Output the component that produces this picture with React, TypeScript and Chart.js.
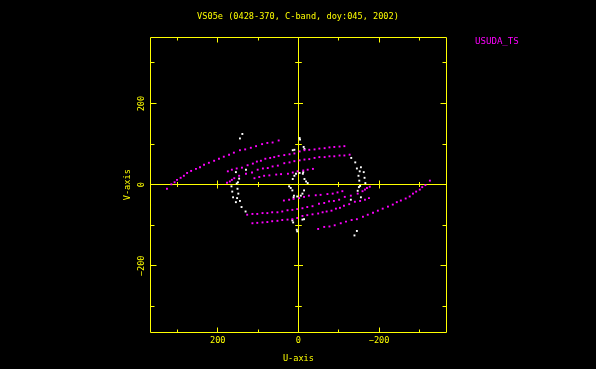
import React, { useEffect, useRef } from 'react';
import { Chart, registerables } from 'chart.js';

Chart.register(...registerables);

const TITLE = 'VS05e (0428-370, C-band, doy:045, 2002)';
const LEGEND_LABEL = 'USUDA_TS';
const X_LABEL = 'U-axis';
const Y_LABEL = 'V-axis';

const MAJOR_TICKS = [-200, 0, 200];
const MINOR_TICKS = [-300, -100, 100, 300];
const TICK_LABELS = ['\u2212200', '0', '200'];

const X_MIN = -366;
const X_MAX = 368;
const Y_MIN = -363;
const Y_MAX = 364;

// USUDA_TS tracks (one half of the uv plane; the conjugate half is -u,-v)
const trackAU = [326, 315, 307, 301, 292, 284, 276, 266, 254, 244, 234, 222, 209, 197, 185, 172, 160, 145, 132, 118, 105, 90, 77, 64, 49];
const trackAV = [-10, 1, 6, 12, 17, 22, 29, 34, 39, 43, 49, 54, 59, 64, 69, 74, 79, 85, 87, 91, 95, 100, 103, 104, 109];

const trackBU = [175, 165, 153, 140, 126, 113, 103, 93, 82, 70, 60, 49, 35, 22, 10, -3, -15, -27, -40, -52, -65, -77, -89, -102, -114];
const trackBV = [33, 37, 40, 42, 48, 52, 57, 59, 64, 66, 68, 71, 73, 75, 77, 82, 85, 86, 87, 89, 90, 92, 93, 94, 95];

const trackCU = [177, 170, 165, 159, 147, 130, 115, 101, 88, 76, 64, 51, 35, 22, 10, -3, -15, -27, -40, -52, -65, -77, -89, -102, -114, -127];
const trackCV = [5, 8, 12, 16, 22, 27, 30, 37, 40, 41, 45, 47, 53, 55, 58, 60, 62, 63, 66, 68, 68, 70, 70, 72, 72, 74];

const trackDU = [109, 97, 85, 72, 55, 43, 26, 14, 2, -12, -23, -36];
const trackDV = [16, 19, 22, 23, 25, 26, 27, 30, 33, 35, 37, 39];

// white points (one half; conjugates drawn too)
const whiteU = [139, 145, 130, 155, 147, 150, 153, 166, 151, 164, 149, 162, 152, 145, 155, 141, 131, -3, -4, 10, 14, -13, -15, 14, 10, 6, -3, -11, -12, -15, -19, -23];
const whiteV = [125, 114, 37, 31, 15, 6, 3, -4, -10, -17, -22, -31, -33, -40, -43, -55, -66, 115, 111, 86, 85, 93, 88, 14, 22, 27, 29, 27, 31, 14, 8, 4];

const YELLOW = '#ffff00';
const MAGENTA = '#ff00ff';
const WHITE = '#ffffff';
const FONT = '"DejaVu Sans Mono", "Liberation Mono", monospace';

function pts(us: number[], vs: number[], sign: number) {
  return us.map((u, i) => ({ x: sign * u, y: sign * vs[i] }));
}

function ds(data: { x: number; y: number }[], color: string) {
  return {
    data,
    showLine: false,
    pointStyle: 'rect' as const,
    pointRadius: 1.35,
    pointBorderWidth: 0,
    pointBackgroundColor: color,
    backgroundColor: color,
    borderColor: color,
  };
}

const snap = (v: number) => Math.round(v - 0.5) + 0.5;

const uvFrame = {
  id: 'uvFrame',
  beforeDraw(chart: any) {
    const ctx = chart.ctx;
    ctx.save();
    ctx.fillStyle = '#000000';
    ctx.fillRect(0, 0, chart.width, chart.height);
    ctx.restore();
  },
  beforeDatasetsDraw(chart: any) {
    const ctx = chart.ctx;
    const { left, right, top, bottom } = chart.chartArea;
    const xs = chart.scales.x;
    const ys = chart.scales.y;
    const L = snap(left), R = snap(right), T = snap(top), B = snap(bottom);
    const x0 = snap(xs.getPixelForValue(0));
    const y0 = snap(ys.getPixelForValue(0));
    ctx.save();
    ctx.strokeStyle = YELLOW;
    ctx.lineWidth = 1;
    ctx.beginPath();
    ctx.rect(L, T, R - L, B - T);
    ctx.moveTo(L, y0); ctx.lineTo(R, y0);
    ctx.moveTo(x0, T); ctx.lineTo(x0, B);
    const all = [...MAJOR_TICKS.map((t) => [t, 1]), ...MINOR_TICKS.map((t) => [t, 0])];
    for (const [t, major] of all) {
      if (t === 0) continue;
      const px = snap(xs.getPixelForValue(t));
      const lx = major ? 5 : 3;
      ctx.moveTo(px, B); ctx.lineTo(px, B - lx);
      ctx.moveTo(px, T); ctx.lineTo(px, T + lx);
      const cx = major ? 4 : 2.5;
      ctx.moveTo(px, y0 - cx); ctx.lineTo(px, y0 + cx);
      const py = snap(ys.getPixelForValue(t));
      const ly = major ? 6 : 4;
      ctx.moveTo(L, py); ctx.lineTo(L + ly, py);
      ctx.moveTo(R, py); ctx.lineTo(R - ly, py);
      const cy = major ? 4.5 : 3.3;
      ctx.moveTo(x0 - cy, py); ctx.lineTo(x0 + cy, py);
    }
    ctx.stroke();
    ctx.restore();
  },
  afterDraw(chart: any) {
    const ctx = chart.ctx;
    const xs = chart.scales.x;
    const ys = chart.scales.y;
    const { left, right, bottom } = chart.chartArea;
    ctx.save();
    ctx.fillStyle = YELLOW;
    ctx.font = `8.6px ${FONT}`;
    ctx.textAlign = 'center';
    ctx.textBaseline = 'middle';
    ctx.fillText(TITLE, (left + right) / 2, 16.5);
    MAJOR_TICKS.forEach((t, i) => {
      ctx.fillText(TICK_LABELS[i], xs.getPixelForValue(t), bottom + 8.5);
    });
    ctx.fillText(X_LABEL, xs.getPixelForValue(0), bottom + 27);
    MAJOR_TICKS.forEach((t, i) => {
      ctx.save();
      ctx.translate(left - 8.3, ys.getPixelForValue(t));
      ctx.rotate(-Math.PI / 2);
      ctx.fillText(TICK_LABELS[i], 0, 0);
      ctx.restore();
    });
    ctx.save();
    ctx.translate(left - 22.3, ys.getPixelForValue(0));
    ctx.rotate(-Math.PI / 2);
    ctx.fillText(Y_LABEL, 0, 0);
    ctx.restore();
    ctx.fillStyle = MAGENTA;
    ctx.font = `9.1px ${FONT}`;
    ctx.textAlign = 'left';
    ctx.fillText(LEGEND_LABEL, 475, 41.7);
    ctx.restore();
  },
};

export default function App() {
  const ref = useRef<HTMLCanvasElement | null>(null);
  useEffect(() => {
    document.body.style.margin = '0';
    document.body.style.background = '#000';
    const canvas = ref.current;
    if (!canvas) return;
    const magentaTracks = [
      [trackAU, trackAV],
      [trackBU, trackBV],
      [trackCU, trackCV],
      [trackDU, trackDV],
    ];
    const datasets: any[] = [];
    magentaTracks.forEach(([u, v]) => {
      datasets.push(ds(pts(u, v, 1), MAGENTA));
      datasets.push(ds(pts(u, v, -1), MAGENTA));
    });
    datasets.push(ds(pts(whiteU, whiteV, 1), WHITE));
    datasets.push(ds(pts(whiteU, whiteV, -1), WHITE));
    const chart = new Chart(canvas, {
      type: 'scatter',
      data: { datasets },
      options: {
        responsive: false,
        animation: false,
        devicePixelRatio: 1,
        layout: { padding: { left: 150, right: 150, top: 37, bottom: 37 } },
        plugins: { legend: { display: false }, tooltip: { enabled: false }, title: { display: false } },
        scales: {
          x: { type: 'linear', min: X_MIN, max: X_MAX, reverse: true, display: false },
          y: { type: 'linear', min: Y_MIN, max: Y_MAX, display: false },
        },
      },
      plugins: [uvFrame],
    });
    return () => chart.destroy();
  }, []);
  return (
    <div style={{ position: 'fixed', left: 0, top: 0, width: 596, height: 369, background: '#000' }}>
      <canvas ref={ref} width={596} height={369} style={{ display: 'block', width: 596, height: 369 }} />
    </div>
  );
}
